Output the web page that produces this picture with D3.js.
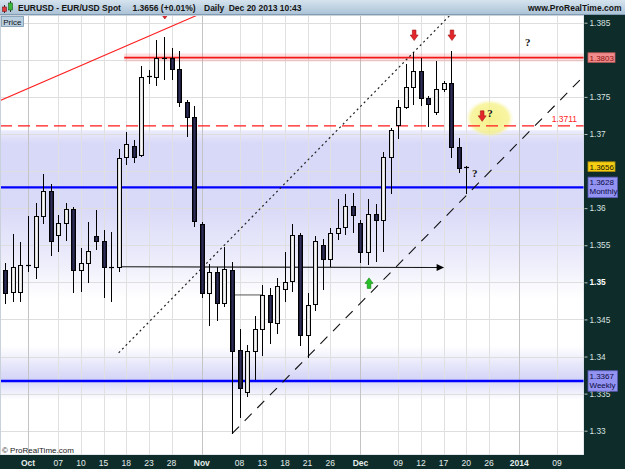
<!DOCTYPE html>
<html>
<head>
<meta charset="utf-8">
<script src="https://cdn.jsdelivr.net/npm/d3@7"></script>
<style>
  body { margin: 0; background: #fff; }
  svg { display: block; font-family: "Liberation Sans", Arial, sans-serif; }
</style>
</head>
<body>
<div id="chart"></div>
<script>
// ---- values (EUR/USD daily, Sep 26 -> Dec 20 2013) ----
const open  = [1.3516,1.3487,1.3487,1.3522,1.3521,1.3590,1.3623,1.3564,1.3580,1.3599,1.3517,1.3526,1.3563,1.3556,1.3521,1.3521,
               1.3669,1.3684,1.3672,1.3777,1.3777,1.3802,1.3802,1.3788,1.3743,1.3723,1.3579,1.3486,1.3514,1.3472,1.3516,1.3409,
               1.3352,1.3407,1.3437,1.3483,1.3445,1.3491,1.3502,1.3564,1.3429,1.3471,1.3550,1.3532,1.3566,1.3574,1.3603,1.3580,
               1.3541,1.3592,1.3584,1.3669,1.3712,1.3736,1.3763,1.3785,1.3749,1.3730,1.3760,1.3769,1.3682,1.3655];
const high  = [1.3526,1.3565,1.3555,1.3589,1.3607,1.3646,1.3632,1.3591,1.3607,1.3602,1.3546,1.3582,1.3597,1.3571,1.3568,1.3680,
               1.3703,1.3692,1.3792,1.3786,1.3827,1.3831,1.3816,1.3812,1.3746,1.3738,1.3582,1.3525,1.3521,1.3548,1.3528,1.3437,
               1.3416,1.3455,1.3497,1.3492,1.3506,1.3541,1.3579,1.3566,1.3486,1.3563,1.3559,1.3573,1.3613,1.3619,1.3621,1.3584,
               1.3613,1.3606,1.3676,1.3708,1.3746,1.3795,1.3811,1.3802,1.3751,1.3798,1.3771,1.3812,1.3694,1.3657];
const low   = [1.3471,1.3473,1.3474,1.3514,1.3504,1.3579,1.3536,1.3541,1.3556,1.3485,1.3487,1.3499,1.3544,1.3479,1.3473,1.3514,
               1.3658,1.3661,1.3669,1.3767,1.3764,1.3773,1.3773,1.3736,1.3696,1.3574,1.3479,1.3441,1.3448,1.3467,1.3296,1.3317,
               1.3345,1.3368,1.3401,1.3417,1.3431,1.3474,1.3487,1.3414,1.3398,1.3461,1.3490,1.3520,1.3557,1.3564,1.3566,1.3526,
               1.3523,1.3527,1.3541,1.3619,1.3693,1.3733,1.3739,1.3738,1.3709,1.3726,1.3757,1.3667,1.3648,1.3619];
const close = [1.3486,1.3521,1.3523,1.3524,1.3590,1.3623,1.3556,1.3580,1.3599,1.3517,1.3526,1.3542,1.3556,1.3520,1.3520,1.3667,
               1.3687,1.3669,1.3777,1.3778,1.3802,1.3801,1.3788,1.3743,1.3723,1.3583,1.3486,1.3514,1.3472,1.3518,1.3408,1.3358,
               1.3407,1.3437,1.3483,1.3447,1.3495,1.3500,1.3564,1.3429,1.3470,1.3556,1.3532,1.3566,1.3573,1.3603,1.3591,1.3541,
               1.3592,1.3584,1.3669,1.3705,1.3736,1.3763,1.3785,1.3749,1.3741,1.3760,1.3769,1.3682,1.3654,1.3656];

const firstDay = '2013-09-26';
const lastAxisDay = '2014-01-14';
const holidays = ['2013-12-25', '2014-01-01'];

const tickDates  = ['2013-10-01','2013-10-07','2013-10-10','2013-10-15','2013-10-18','2013-10-23','2013-10-28',
                    '2013-11-01','2013-11-08','2013-11-13','2013-11-18','2013-11-21','2013-11-26',
                    '2013-12-02','2013-12-09','2013-12-12','2013-12-17','2013-12-20','2013-12-26',
                    '2014-01-02','2014-01-09'];
const tickLabels = ['Oct','07','10','15','18','23','28','Nov','08','13','18','21','26',
                    'Dec','09','12','17','20','26','2014','09'];
const monthTicks = ['Oct','Nov','Dec','2014'];

const priceLabels = [1.385, 1.375, 1.37, 1.36, 1.355, 1.35, 1.345, 1.34, 1.335, 1.33];

const lastPrice = 1.3656;
const resistance = 1.3803;
const pivot = 1.3711;
const monthly = 1.3628;
const weekly = 1.3367;

// drawn trendlines: [date, price] anchors
const redLine    = [['2013-09-26', 1.3748], ['2013-10-30', 1.3854]];
const dottedLine = [['2013-10-17', 1.3405], ['2013-12-09', 1.3789]];
const dashedLine = [['2013-11-07', 1.3296], ['2013-12-20', 1.3617]];
const arrowLine  = [['2013-10-17', 1.3521], ['2013-12-17', 1.3520]];
const shortLine  = [['2013-11-07', 1.3483], ['2013-11-13', 1.3483]];
const resistanceFrom = '2013-10-18';

// markers
const downArrows = [['2013-10-25', 1.3855], ['2013-12-11', 1.3826], ['2013-12-18', 1.3826], ['2013-12-24', 1.3717]];
const upArrows   = [['2013-12-03', 1.3506]];
const questions  = [['2014-01-03', 1.3818], ['2013-12-26', 1.3723], ['2013-12-23', 1.3642]];
const highlight  = ['2013-12-26', 1.3721];

// ---- layout ----
const W = 625, H = 469;
const plot = { l: 0, t: 15, r: 584, b: 455 };

const fmt = d3.utcFormat('%Y-%m-%d');
const calendar = d3.utcDay.range(new Date(firstDay), d3.utcDay.offset(new Date(lastAxisDay), 1))
  .filter(d => d.getUTCDay() % 6 !== 0)
  .map(fmt)
  .filter(s => !holidays.includes(s));
const dates = calendar.slice(0, close.length);
const candles = dates.map((d, i) => ({ date: d, o: open[i], h: high[i], l: low[i], c: close[i] }));

const x = d3.scaleBand().domain(calendar).range([1.55, 583.4]).padding(0);
const cx = d => x(d) + x.bandwidth() / 2;
const y = d3.scaleLinear().domain([1.33, 1.385]).range([430.7, 22.7]);
const px = p => [cx(p[0]), y(p[1])];

const svg = d3.select('#chart').append('svg').attr('width', W).attr('height', H);
const defs = svg.append('defs');

function linGrad(id, stops, vertical = true) {
  const g = defs.append('linearGradient').attr('id', id)
    .attr('x1', 0).attr('y1', 0).attr('x2', vertical ? 0 : 1).attr('y2', vertical ? 1 : 0);
  stops.forEach(s => g.append('stop').attr('offset', s[0]).attr('stop-color', s[1]).attr('stop-opacity', s[2] ?? 1));
}
linGrad('title', [[0, '#d5e3ee'], [1, '#a9c1d5']]);
linGrad('bull', [[0, '#b8b8b8'], [0.45, '#fbfbfb'], [1, '#c4c4c4']], false);
linGrad('bear', [[0, '#07071a'], [0.5, '#2e2e58'], [1, '#0a0a1c']], false);
linGrad('monthZone', [[0, '#ececfc'], [0.08, '#d8d8f8'], [0.45, '#d9d9f8'], [0.75, '#ebebfb'], [1, '#ffffff']]);
linGrad('weekZone', [[0, '#ffffff'], [0.62, '#d4d4f7'], [1, '#ffffff']]);
const rg = defs.append('radialGradient').attr('id', 'hl');
rg.append('stop').attr('offset', 0).attr('stop-color', '#f4ee70').attr('stop-opacity', 0.8);
rg.append('stop').attr('offset', 0.8).attr('stop-color', '#f6f184').attr('stop-opacity', 0.75);
rg.append('stop').attr('offset', 1).attr('stop-color', '#f8f6b8').attr('stop-opacity', 0.1);

defs.append('clipPath').attr('id', 'clip').append('rect')
  .attr('x', plot.l).attr('y', plot.t).attr('width', plot.r - plot.l).attr('height', plot.b - plot.t);

svg.append('rect').attr('width', W).attr('height', H).attr('fill', '#fff');
const g = svg.append('g').attr('clip-path', 'url(#clip)');

// shaded zones around the monthly / weekly levels
g.append('rect').attr('x', plot.l).attr('width', plot.r)
  .attr('y', y(1.3705)).attr('height', y(1.3478) - y(1.3705)).attr('fill', 'url(#monthZone)');
g.append('rect').attr('x', plot.l).attr('width', plot.r)
  .attr('y', y(1.3414)).attr('height', y(1.3342) - y(1.3414)).attr('fill', 'url(#weekZone)');

// grid
g.append('g').selectAll('line').data(y.ticks(12)).join('line')
  .attr('x1', plot.l).attr('x2', plot.r)
  .attr('y1', d => Math.round(y(d)) + 0.5).attr('y2', d => Math.round(y(d)) + 0.5)
  .attr('stroke', '#dedede').attr('stroke-width', 1);
g.append('g').selectAll('line').data(tickDates).join('line')
  .attr('x1', d => Math.round(cx(d)) + 0.5).attr('x2', d => Math.round(cx(d)) + 0.5)
  .attr('y1', plot.t).attr('y2', plot.b)
  .attr('stroke', (d, i) => monthTicks.includes(tickLabels[i]) ? '#c4c4c4' : '#e0e0e0').attr('stroke-width', 1);

// highlight ellipse
const hc = px(highlight);
g.append('ellipse').attr('cx', hc[0] + 0.7).attr('cy', hc[1]).attr('rx', 23.5).attr('ry', 18.5).attr('fill', 'url(#hl)');

// horizontal levels
const rx0 = cx(resistanceFrom) - 2;
g.append('line').attr('x1', rx0).attr('x2', plot.r).attr('y1', y(resistance)).attr('y2', y(resistance))
  .attr('stroke', '#ff5050').attr('stroke-opacity', 0.18).attr('stroke-width', 8);
g.append('line').attr('x1', rx0).attr('x2', plot.r).attr('y1', y(resistance)).attr('y2', y(resistance))
  .attr('stroke', '#f01818').attr('stroke-width', 1.8);
g.append('line').attr('x1', plot.l).attr('x2', plot.r).attr('y1', y(pivot)).attr('y2', y(pivot))
  .attr('stroke', '#ff1a1a').attr('stroke-width', 1.3).attr('stroke-dasharray', '12,6');
[monthly, weekly].forEach(v => {
  g.append('line').attr('x1', plot.l).attr('x2', plot.r).attr('y1', y(v)).attr('y2', y(v))
    .attr('stroke', '#0000ff').attr('stroke-width', 2.3);
});

// trendlines
function extended(line, x0, x1) {
  const [a, b] = line.map(px);
  const k = (b[1] - a[1]) / (b[0] - a[0]);
  return [[x0, a[1] + (x0 - a[0]) * k], [x1, a[1] + (x1 - a[0]) * k]];
}
const lineGen = d3.line();
g.append('path').attr('d', lineGen(extended(redLine, -20, 260)))
  .attr('fill', 'none').attr('stroke', '#ff2020').attr('stroke-width', 1.1);
g.append('path').attr('d', lineGen(extended(dottedLine, px(dottedLine[0])[0], 470)))
  .attr('fill', 'none').attr('stroke', '#222').attr('stroke-width', 1.2).attr('stroke-dasharray', '2,3');
g.append('path').attr('d', lineGen(extended(dashedLine, px(dashedLine[0])[0], plot.r)))
  .attr('fill', 'none').attr('stroke', '#111').attr('stroke-width', 1.1).attr('stroke-dasharray', '10,8');
g.append('path').attr('d', lineGen(shortLine.map(px)))
  .attr('fill', 'none').attr('stroke', '#555').attr('stroke-width', 1);
const al = arrowLine.map(px);
g.append('path').attr('d', lineGen([al[0], [al[1][0] - 6, al[1][1]]]))
  .attr('fill', 'none').attr('stroke', '#1a1a1a').attr('stroke-width', 1.2);
g.append('path')
  .attr('d', `M${al[1][0] + 0.5},${al[1][1]} l-7.5,-3.6 l0,7.2 Z`)
  .attr('fill', '#000');

// candles
const cg = g.append('g');
candles.forEach(d => {
  const xc = Math.round(cx(d.date)) + 0.5;
  cg.append('line').attr('x1', xc).attr('x2', xc)
    .attr('y1', Math.round(y(d.h))).attr('y2', Math.round(y(d.l)))
    .attr('stroke', '#000').attr('stroke-width', 1);
  const top = Math.round(y(Math.max(d.o, d.c))) + 0.5;
  const bot = Math.round(y(Math.min(d.o, d.c))) + 0.5;
  if (bot - top < 1.5) {
    cg.append('line').attr('x1', xc - 2.5).attr('x2', xc + 2.5).attr('y1', top).attr('y2', top)
      .attr('stroke', '#000').attr('stroke-width', 1.2);
  } else {
    cg.append('rect').attr('x', xc - 2).attr('width', 4)
      .attr('y', top).attr('height', bot - top)
      .attr('fill', d.c >= d.o ? 'url(#bull)' : 'url(#bear)')
      .attr('stroke', '#000').attr('stroke-width', 1);
  }
});

// markers
const downPath = 'M0,0 L-4,-5.5 L-1.8,-5.5 L-1.8,-10.5 L1.8,-10.5 L1.8,-5.5 L4,-5.5 Z';
g.append('g').selectAll('path').data(downArrows).join('path')
  .attr('transform', d => `translate(${px(d)[0] + 0.8},${px(d)[1]})`)
  .attr('d', downPath).attr('fill', '#e3262b').attr('stroke', '#a31414').attr('stroke-width', 0.6);
g.append('g').selectAll('path').data(upArrows).join('path')
  .attr('transform', d => `translate(${px(d)[0] + 1},${px(d)[1]}) scale(1,-1)`)
  .attr('d', downPath).attr('fill', '#27c227').attr('stroke', '#137a13').attr('stroke-width', 0.6);
g.append('g').selectAll('text').data(questions).join('text')
  .attr('x', d => px(d)[0] + 1).attr('y', d => px(d)[1])
  .attr('text-anchor', 'middle')
  .style('font-family', '"Liberation Serif", "DejaVu Serif", serif')
  .style('font-weight', 'bold').style('font-size', '11px').attr('fill', '#111')
  .text('?');

// pivot label
svg.append('text').attr('x', 577).attr('y', y(pivot) - 3.5).attr('text-anchor', 'end')
  .style('font-size', '8.5px').attr('fill', '#ff2424').text(pivot.toFixed(4));

// "© ProRealTime.com"
svg.append('text').attr('x', 2).attr('y', 453).style('font-size', '8px').attr('fill', '#222')
  .text('\u00A9 ProRealTime.com');

// plot border
svg.append('rect').attr('x', 0.5).attr('y', plot.t + 0.5).attr('width', plot.r - 0.5).attr('height', plot.b - plot.t - 0.5)
  .attr('fill', 'none').attr('stroke', '#c9d2da');

// axes bands
const axisBg = '#0d2c2a';
svg.append('rect').attr('x', plot.r).attr('y', plot.t).attr('width', W - plot.r).attr('height', H - plot.t).attr('fill', axisBg);
svg.append('rect').attr('x', 0).attr('y', plot.b).attr('width', W).attr('height', H - plot.b).attr('fill', axisBg);

// right price axis
const yAxis = d3.axisRight(y).tickValues(priceLabels).tickSize(3).tickPadding(2)
  .tickFormat(d => String(+d.toFixed(3)));
const ya = svg.append('g').attr('transform', `translate(${plot.r + 0.5},0)`).call(yAxis);
ya.select('.domain').remove();
ya.selectAll('line').attr('stroke', '#b8c4c2');
ya.selectAll('text').style('font-size', '8.3px')
  .style('font-weight', d => d === 1.35 ? 'bold' : 'normal')
  .attr('fill', d => d === 1.35 ? '#ffffff' : '#d8e2e0');

// bottom date axis
const xa = svg.append('g');
xa.selectAll('text').data(tickDates).join('text')
  .attr('x', d => cx(d)).attr('y', 466.3).attr('text-anchor', 'middle')
  .style('font-size', '8.5px')
  .style('font-weight', (d, i) => monthTicks.includes(tickLabels[i]) ? 'bold' : 'normal')
  .attr('fill', '#e4ecea')
  .text((d, i) => tickLabels[i]);

// price boxes on the axis
function priceBox(v, lines, fill, stroke, color) {
  const h = lines.length > 1 ? 20.5 : 9.5;
  const yc = y(v);
  const bw = lines.length > 1 ? 29.5 : 27;
  svg.append('rect').attr('x', 588).attr('y', yc - h / 2).attr('width', bw).attr('height', h)
    .attr('fill', fill).attr('stroke', stroke).attr('stroke-width', 0.8);
  lines.forEach((t, i) => {
    svg.append('text').attr('x', 589.5)
      .attr('y', yc - h / 2 + 7.8 + i * 9.3)
      .style('font-size', '8px').attr('fill', color).text(t);
  });
}
priceBox(resistance, [resistance.toFixed(4)], '#f28b8b', '#c05a5a', '#8a1010');
priceBox(lastPrice, [lastPrice.toFixed(4)], '#f6cf14', '#b8960a', '#1a1400');
priceBox(monthly, [monthly.toFixed(4), 'Monthly'], '#9393f2', '#5b5bb5', '#0b0b45');
priceBox(weekly, [weekly.toFixed(4), 'Weekly'], '#9393f2', '#5b5bb5', '#0b0b45');

// title bar
svg.append('rect').attr('x', 0).attr('y', 0).attr('width', W).attr('height', plot.t).attr('fill', 'url(#title)');
svg.append('line').attr('x1', 0).attr('x2', W).attr('y1', plot.t - 0.5).attr('y2', plot.t - 0.5).attr('stroke', '#829db3');
const icon = svg.append('g');
icon.append('line').attr('x1', 4.5).attr('x2', 4.5).attr('y1', 5).attr('y2', 13).attr('stroke', '#333');
icon.append('rect').attr('x', 2.5).attr('y', 7).attr('width', 4).attr('height', 4.5).attr('fill', '#e23a3a').attr('stroke', '#7a1a1a').attr('stroke-width', 0.6);
icon.append('line').attr('x1', 10.5).attr('x2', 10.5).attr('y1', 1).attr('y2', 12).attr('stroke', '#333');
icon.append('rect').attr('x', 8.5).attr('y', 3).attr('width', 4).attr('height', 7).attr('fill', '#3bb83b').attr('stroke', '#1a5a1a').attr('stroke-width', 0.6);

const titleParts = [['EURUSD - EUR/USD Spot', 18], ['1.3656 (+0.01%)', 132.5], ['Daily', 204], ['Dec 20 2013 10:43', 228.7]];
svg.append('g').selectAll('text').data(titleParts).join('text')
  .attr('x', d => d[1]).attr('y', 10.8)
  .style('font-size', '8.5px').style('font-weight', 'bold').attr('fill', '#141414')
  .text(d => d[0]);
svg.append('text').attr('x', 621.5).attr('y', 10.8).attr('text-anchor', 'end')
  .style('font-size', '8.5px').style('font-weight', 'bold').attr('fill', '#141414')
  .text('www.ProRealTime.com');

// "Price" tag
svg.append('rect').attr('x', 1.5).attr('y', 16.5).attr('width', 22).attr('height', 10)
  .attr('fill', '#b9cfe0').attr('stroke', '#7895ad').attr('stroke-width', 0.8);
svg.append('text').attr('x', 3.2).attr('y', 24.6).style('font-size', '8px').attr('fill', '#111').text('Price');
</script>
</body>
</html>
